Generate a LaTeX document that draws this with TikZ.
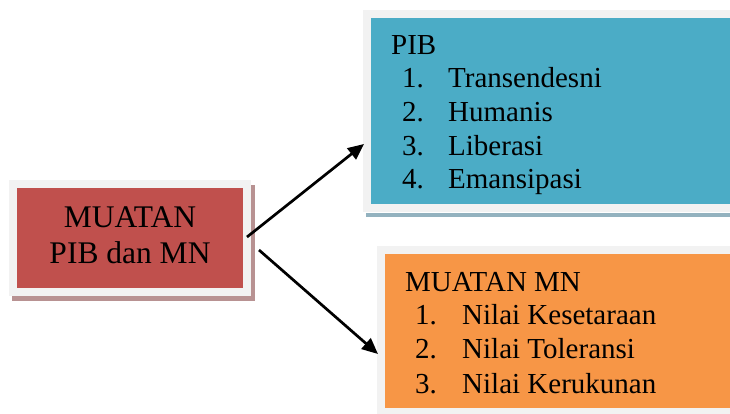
\documentclass[tikz,border=0pt]{standalone}
\usepackage{fontspec}
\setmainfont{Liberation Serif}
\usetikzlibrary{arrows.meta}
\definecolor{redfill}{HTML}{C0504D}
\definecolor{bluefill}{HTML}{4BACC6}
\definecolor{orangefill}{HTML}{F79646}
\definecolor{framegray}{HTML}{F2F2F2}
\definecolor{redshadow}{HTML}{B89292}
\definecolor{blueshadow}{HTML}{93B2BF}
\tikzset{
  box/.style={rectangle, draw=framegray, line width=8pt, inner sep=0pt, outer sep=0pt, anchor=north west},
  txt/.style={anchor=base west, inner sep=0pt, font=\fontsize{29}{34}\selectfont},
  bigtxt/.style={align=center, inner sep=0pt, font=\fontsize{31.5}{36}\selectfont},
  conn/.style={line width=2.7pt, -{Triangle[length=16pt,width=14pt]}}
}
\begin{document}
\begin{tikzpicture}[x=1pt,y=-1pt]
\clip (0,0) rectangle (730,414);
\fill[white] (0,0) rectangle (730,414);
% shadows
\fill[redshadow] (12,185) rectangle (255,301);
\fill[blueshadow] (366,213) rectangle (740,217);
% boxes
\node[box, fill=redfill, minimum width=234pt, minimum height=108pt] (red) at (13,184) {};
\node[box, fill=bluefill, minimum width=380pt, minimum height=193.5pt] (blue) at (367,14) {};
\node[box, fill=orangefill, minimum width=380pt, minimum height=162pt] (orange) at (381,250) {};
% left text
\node[bigtxt, anchor=base] (t0) at (130,227) {MUATAN};
\node[bigtxt, anchor=base] (t1) at (130,263) {PIB dan MN};
% blue list
\node[txt] (p0) at (391,55) {PIB};
\node[txt] (pn1) at (402,88) {1.};
\node[txt] (pl1) at (448,88) {Transendesni};
\node[txt] (pn2) at (402,122) {2.};
\node[txt] (pl2) at (448,122) {Humanis};
\node[txt] (pn3) at (402,156) {3.};
\node[txt] (pl3) at (448,156) {Liberasi};
\node[txt] (pn4) at (402,189) {4.};
\node[txt] (pl4) at (448,189) {Emansipasi};
% orange list
\node[txt] (m0) at (405,291) {MUATAN MN};
\node[txt] (mn1) at (415,324) {1.};
\node[txt] (ml1) at (462,324) {Nilai Kesetaraan};
\node[txt] (mn2) at (415,358) {2.};
\node[txt] (ml2) at (462,358) {Nilai Toleransi};
\node[txt] (mn3) at (415,393) {3.};
\node[txt] (ml3) at (462,393) {Nilai Kerukunan};
% connectors
\coordinate (a1s) at (247,237);
\coordinate (a1e) at (364,144);
\coordinate (a2s) at (259,250);
\coordinate (a2e) at (378,354);
\draw[conn] (a1s) -- (a1e);
\draw[conn] (a2s) -- (a2e);
\end{tikzpicture}
\end{document}
